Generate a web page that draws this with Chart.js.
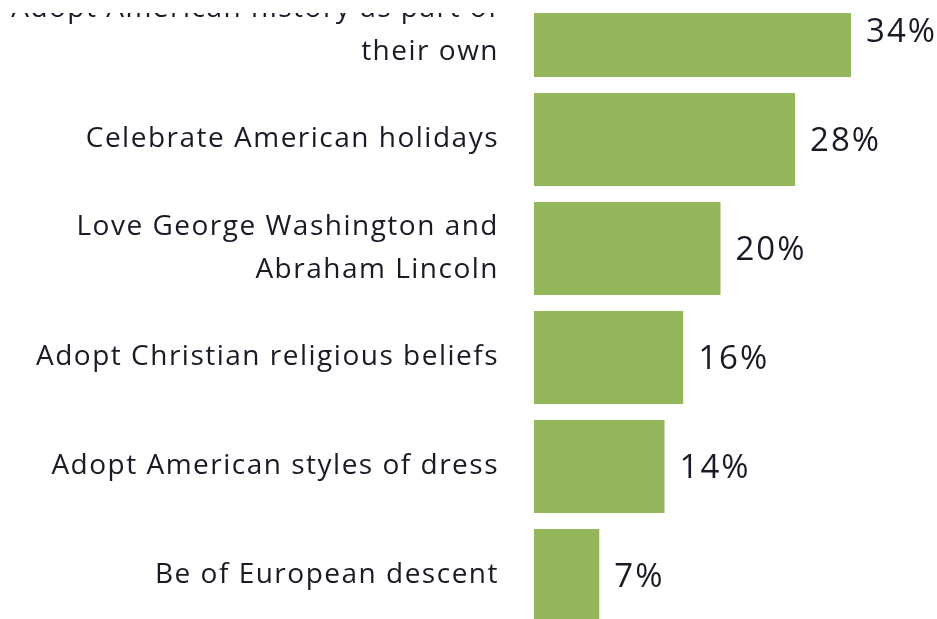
<!DOCTYPE html>
<html>
<head>
<meta charset="utf-8">
<script src="https://cdn.jsdelivr.net/npm/chart.js@4/dist/chart.umd.min.js"></script>
<style>
  html, body { margin: 0; padding: 0; background: #fff; overflow: hidden; }
  #wrap { position: relative; width: 937px; height: 619px; overflow: hidden; }
  #c { position: absolute; left: 0; top: -24px; }
  #band { position: absolute; left: 0; top: 0; width: 937px; height: 13px; background: #fff; }
</style>
</head>
<body>
<div id="wrap">
  <canvas id="c" width="937" height="654"></canvas>
  <div id="band"></div>
</div>
<script>
const categories = [
  ["Adopt American history as part of", "their own"],
  "Celebrate American holidays",
  ["Love George Washington and", "Abraham Lincoln"],
  "Adopt Christian religious beliefs",
  "Adopt American styles of dress",
  "Be of European descent"
];
const percentValues = [34, 28, 20, 16, 14, 7];
const valueLabels = ["34%", "28%", "20%", "16%", "14%", "7%"];

const textColor = '#1a1a26';
const fontFamily = '"Open Sans", Lato, sans-serif';

const spacingPlugin = {
  id: 'spacing',
  beforeDraw(chart) {
    chart.ctx.letterSpacing = '1.5px';
  }
};

const valueLabelPlugin = {
  id: 'valueLabels',
  afterDatasetsDraw(chart) {
    const ctx = chart.ctx;
    const meta = chart.getDatasetMeta(0);
    ctx.save();
    ctx.letterSpacing = '2px';
    ctx.font = '33px ' + fontFamily;
    ctx.fillStyle = textColor;
    ctx.textAlign = 'left';
    ctx.textBaseline = 'middle';
    meta.data.forEach((bar, i) => {
      ctx.fillText(valueLabels[i], bar.x + 15, bar.y + 2);
    });
    ctx.restore();
  }
};

new Chart(document.getElementById('c'), {
  type: 'bar',
  data: {
    labels: categories,
    datasets: [{
      data: percentValues,
      backgroundColor: '#94b75b',
      borderWidth: 0,
      categoryPercentage: 1,
      barPercentage: 0.853
    }]
  },
  options: {
    indexAxis: 'y',
    responsive: false,
    animation: false,
    layout: { padding: { left: 0, right: 30, top: 0, bottom: 0 } },
    plugins: { legend: { display: false }, tooltip: { enabled: false } },
    scales: {
      x: {
        display: false,
        min: 0,
        max: 40
      },
      y: {
        border: { display: false },
        grid: { display: false, drawTicks: false },
        afterFit: s => {
          s.width = 534;
          s.paddingTop = 0;
          s.paddingBottom = 0;
        },
        ticks: {
          padding: 35,
          color: textColor,
          font: { family: fontFamily, size: 28, lineHeight: 1.55 }
        }
      }
    }
  },
  plugins: [spacingPlugin, valueLabelPlugin]
});
</script>
</body>
</html>
